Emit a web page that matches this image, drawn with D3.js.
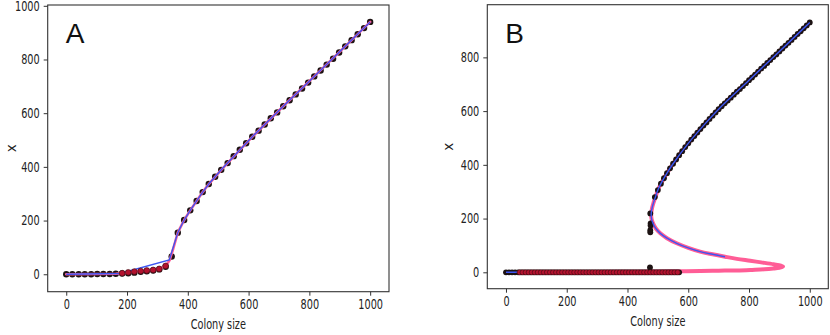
<!DOCTYPE html>
<html>
<head>
<meta charset="utf-8">
<script src="https://cdn.jsdelivr.net/npm/d3@7"></script>
<style>
  body { margin: 0; background: #fff; }
  .tick text { font-family: "DejaVu Sans", sans-serif; font-size: 13.5px; fill: #222; }
  .axis-label { font-family: "DejaVu Sans", sans-serif; font-size: 13.5px; fill: #222; }
  .panel-label { font-family: "Liberation Sans", Arial, sans-serif; font-size: 28px; fill: #111; }
</style>
</head>
<body>
<svg id="chart" width="830" height="335"></svg>
<script>
// ---- panel A ----
const sizesA = [0,20,41,61,82,102,122,143,163,184,204,224,245,265,286,306,327,347,367,388,
    408,429,449,469,490,510,531,551,571,592,612,633,653,673,694,714,735,755,776,796,
    816,837,857,878,898,918,939,959,980,1000];
const blackA = [0,0,0,0,0,1,1,1,2,3,4,6,9,11,14,18,28,66,155,202,
    238,273,306,336,363,389,414,440,464,488,512,535,558,581,603,626,648,670,692,714,
    737,759,781,803,826,849,872,894,917,940];
const redSizesA = [184,204,224,245,265,286,306,327];
const redA = [4,7,10,12,14,16,20,31];
const pinkA = [[0,0],[102,1],[163,2],[184,4],[204,7],[224,10],[245,12],[265,14],[286,17],[306,21],
    [327,30],[340,52],[352,95],[367,155],[388,202],[408,238],[429,273],[449,306],[469,336],[490,363],
    [510,389],[612,512],[714,626],[816,737],[918,849],[1000,940]];
const blueA = [[0,0],[177,3],[339,53],[367,155],[388,202],[408,238],[429,273],[449,306],[469,336],
    [490,363],[510,389],[612,512],[714,626],[816,737],[918,849],[1000,940]];

// ---- panel B ----
const lowSizesB = [0,10,20,30,40,50,60,70,80,90,100,110,120,130,140,150,160,170,180,190,
    200,210,220,230,240,250,260,270,280,290,300,310,320,330,340,350,360,370,380,390,
    400,410,420,430,440,450,460,470,480,490,500,510,520,530,540,550,560,570];
const lowB = [0,0,0,0,0,0,0,0,0,0,0,0,0,0,0,0,0,0,0,0,
    0,0,0,0,0,0,0,0,0,0,0,0,0,0,0,0,0,0,0,0,
    0,0,0,0,0,0,0,0,0,0,0,0,0,0,0,0,0,0];
const redSizesB = [45,55,65,75,85,95,105,115,125,135,145,155,165,175,185,195,205,215,225,235,
    245,255,265,275,285,295,305,315,325,335,345,355,365,375,385,395,405,415,425,435,
    445,455,465,475,485,495,505,515,525,535,545,555,565];
const highSizesB = [490,500,510,520,530,540,550,560,570,580,590,600,610,620,630,640,650,660,670,680,
    690,700,710,720,730,740,750,760,770,780,790,800,810,820,830,840,850,860,870,880,
    890,900,910,920,930,940,950,960,970,980,990,1000];
const highB = [280,306,330,350,369,387,404,420,436,451,466,480,494,507,520,533,546,558,571,583,
    595,607,618,629,639,650,661,672,682,693,704,715,725,736,747,758,768,779,790,801,
    811,822,833,844,854,865,876,887,897,908,919,930];
const strayB = [[474,18],[475,219],[476,182],[476,174],[475,157],[475,149]];
const pinkB = [[0,0],[100,0],[200,1],[300,1],[400,2],[500,3],[570,4],[640,5],[700,6],[760,7],
    [810,9],[850,11],[880,14],[900,17],[912,21],[905,25],[881,30],[840,37],[804,43],[760,50],
    [721,58],[680,67],[639,77],[600,91],[562,108],[530,127],[508,145],[494,162],[484,182],[479,200],
    [478,218],[481,240],[486,260],[492,280],[500,306],[510,330],[530,369],[550,404],[600,480],[650,546],
    [700,607],[800,715],[900,822],[1000,930]];
const blueBLow = [[0,0],[560,3]];
const blueBFrom = 20; // blue follows pinkB from [721,58] onwards

const xTicks = [0,200,400,600,800,1000];
const yTicksA = [0,200,400,600,800,1000];
const yTicksB = [0,200,400,600,800];

const squeeze = 0.72; // the figure's text is horizontally condensed

const svg = d3.select("#chart");
svg.append("rect").attr("width", 830).attr("height", 335).attr("fill", "#fff");

function condense(sel) {
    sel.each(function() {
        let t = d3.select(this);
        let x0 = +t.attr("x") || 0;
        t.attr("x", x0 / squeeze).attr("transform", "scale(" + squeeze + ",1)");
    });
}

function drawPanel(p) {
    let x = d3.scaleLinear().domain(p.xDomain).range([p.left, p.right]);
    let y = d3.scaleLinear().domain(p.yDomain).range([p.bottom, p.top]);
    let g = svg.append("g");

    g.append("g")
        .attr("transform", "translate(0," + p.bottom + ")")
        .call(d3.axisBottom(x).tickValues(xTicks).tickSize(4).tickPadding(4).tickFormat(d3.format("d")))
        .call(a => a.select(".domain").remove());
    g.append("g")
        .attr("transform", "translate(" + p.left + ",0)")
        .call(d3.axisLeft(y).tickValues(p.yTicks).tickSize(4).tickPadding(4).tickFormat(d3.format("d")))
        .call(a => a.select(".domain").remove());
    g.selectAll(".tick line").attr("stroke", "#333");
    g.selectAll(".tick text").call(condense);

    let line = d3.line().x(d => x(d[0])).y(d => y(d[1])).curve(p.curve);

    let drawPink = () => g.append("path").attr("d", line(p.pink))
        .attr("fill", "none").attr("stroke", "#ff5d96").attr("stroke-width", p.pinkW)
        .attr("stroke-linejoin", "round").attr("stroke-linecap", "round");

    if (!p.pinkOnTop) drawPink();

    // black simulation dots
    p.black.forEach(s => {
        g.selectAll(null)
            .data(s.sizes.map((n, i) => [n, s.vals[i]]))
            .enter().append("circle")
            .attr("cx", d => x(d[0]))
            .attr("cy", d => y(d[1]))
            .attr("r", p.r)
            .attr("fill", "#1c1212");
    });

    if (p.pinkOnTop) drawPink();

    p.blue.forEach(b => {
        g.append("path").attr("d", line(b))
            .attr("fill", "none").attr("stroke", "#3d55f0").attr("stroke-width", 1.4);
    });

    // red dots
    g.selectAll(null)
        .data(p.red.sizes.map((n, i) => [n, p.red.vals[i]]))
        .enter().append("circle")
        .attr("cx", d => x(d[0]))
        .attr("cy", d => y(d[1]))
        .attr("r", p.r - 0.3)
        .attr("fill", "#b3122e")
        .attr("stroke", "#3a0a10")
        .attr("stroke-width", 0.6);

    // frame
    g.append("rect")
        .attr("x", p.left).attr("y", p.top)
        .attr("width", p.right - p.left).attr("height", p.bottom - p.top)
        .attr("fill", "none").attr("stroke", "#333").attr("stroke-width", 1.1);

    g.append("text").attr("class", "axis-label")
        .attr("x", (p.left + p.right) / 2 / squeeze).attr("y", p.bottom + 37)
        .attr("transform", "scale(" + squeeze + ",1)")
        .attr("text-anchor", "middle").text("Colony size");
    g.append("text").attr("class", "axis-label")
        .attr("transform", "translate(" + p.ylabX + "," + ((p.top + p.bottom) / 2) + ")rotate(-90)")
        .attr("text-anchor", "middle").text("x");
    g.append("text").attr("class", "panel-label")
        .attr("x", p.left + 18).attr("y", 43).text(p.label);
}

drawPanel({
    label: "A", left: 47.7, right: 389, top: 5, bottom: 291.7,
    xDomain: [-61, 1062], yDomain: [-65, 1003], yTicks: yTicksA, ylabX: 16,
    r: 3.2, pinkW: 2.6, pinkOnTop: true, curve: d3.curveLinear,
    black: [{sizes: sizesA, vals: blackA}],
    red: {sizes: redSizesA, vals: redA},
    pink: pinkA, blue: [blueA]
});

drawPanel({
    label: "B", left: 487.3, right: 828.3, top: 4.7, bottom: 288.7,
    xDomain: [-61.5, 1061], yDomain: [-61, 996], yTicks: yTicksB, ylabX: 453,
    r: 2.9, pinkW: 4, pinkOnTop: false, curve: d3.curveCatmullRom,
    black: [{sizes: lowSizesB, vals: lowB}, {sizes: highSizesB, vals: highB},
            {sizes: strayB.map(d => d[0]), vals: strayB.map(d => d[1])}],
    red: {sizes: redSizesB, vals: redSizesB.map(() => 0)},
    pink: pinkB, blue: [blueBLow, pinkB.slice(blueBFrom)]
});
</script>
</body>
</html>
